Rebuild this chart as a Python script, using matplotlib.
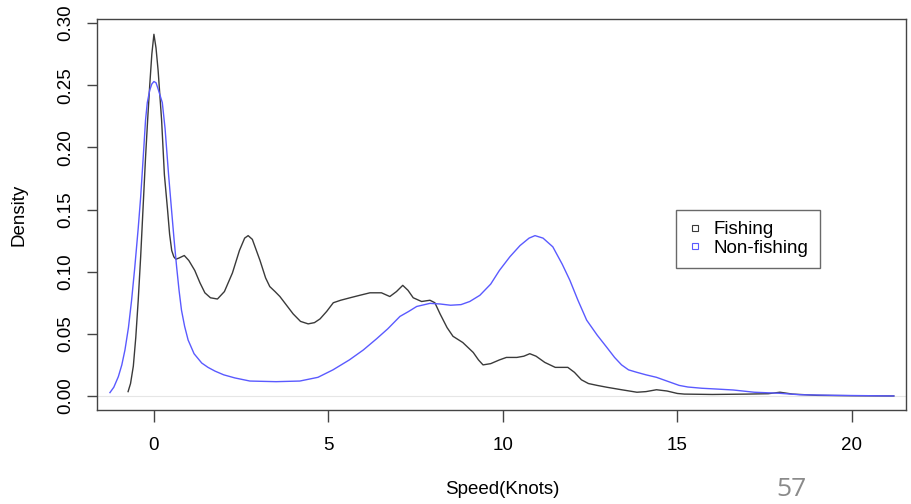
import matplotlib
matplotlib.use("Agg")
import matplotlib.pyplot as plt
from matplotlib.lines import Line2D

plt.rcParams['font.family'] = ['Liberation Sans', 'DejaVu Sans']

# density curves (speed in knots, density)
fish_x = [-0.74, -0.67, -0.59, -0.52, -0.45, -0.38, -0.31, -0.24, -0.18, -0.12,
          -0.06, 0.00, 0.06, 0.12, 0.22, 0.30, 0.39, 0.45, 0.51, 0.57,
          0.63, 0.72, 0.87, 1.00, 1.17, 1.32, 1.46, 1.62, 1.82, 2.02,
          2.25, 2.45, 2.60, 2.70, 2.82, 3.04, 3.20, 3.32, 3.47, 3.61,
          3.80, 3.99, 4.20, 4.42, 4.60, 4.76, 4.95, 5.14, 5.35, 5.62,
          5.90, 6.19, 6.52, 6.76, 6.95, 7.13, 7.28, 7.43, 7.67, 7.91,
          8.05, 8.20, 8.40, 8.57, 8.85, 9.15, 9.30, 9.43, 9.65, 9.90,
          10.10, 10.40, 10.60, 10.77, 10.95, 11.20, 11.50, 11.70, 11.86, 12.05,
          12.25, 12.45, 12.70, 12.98, 13.40, 13.84, 14.10, 14.40, 14.70, 15.00,
          15.20, 16.0, 17.0, 17.6, 17.94, 18.3, 19.0, 20.0, 21.2]
fish_y = [0.0035, 0.010, 0.024, 0.047, 0.077, 0.112, 0.152, 0.192, 0.222, 0.250,
          0.275, 0.291, 0.280, 0.262, 0.222, 0.178, 0.150, 0.130, 0.117, 0.112,
          0.110, 0.111, 0.113, 0.109, 0.101, 0.091, 0.083, 0.079, 0.078, 0.084,
          0.099, 0.117, 0.127, 0.129, 0.126, 0.109, 0.095, 0.088, 0.084, 0.080,
          0.073, 0.066, 0.060, 0.058, 0.059, 0.062, 0.068, 0.075, 0.077, 0.079,
          0.081, 0.083, 0.083, 0.080, 0.084, 0.089, 0.085, 0.079, 0.076, 0.077,
          0.075, 0.066, 0.055, 0.048, 0.043, 0.035, 0.029, 0.025, 0.026, 0.029,
          0.031, 0.031, 0.032, 0.034, 0.032, 0.027, 0.023, 0.023, 0.023, 0.019,
          0.013, 0.010, 0.0085, 0.007, 0.005, 0.003, 0.0035, 0.005, 0.004, 0.002,
          0.0015, 0.0012, 0.0015, 0.0018, 0.003, 0.0015, 0.0005, 0.0002, 0.0]

nonfish_x = [-1.26, -1.15, -1.02, -0.92, -0.83, -0.73, -0.64, -0.55, -0.45, -0.38,
             -0.30, -0.24, -0.19, -0.12, -0.06, 0.00, 0.06, 0.12, 0.24, 0.32,
             0.42, 0.51, 0.58, 0.65, 0.72, 0.79, 0.88, 0.98, 1.15, 1.37,
             1.55, 1.75, 2.00, 2.32, 2.75, 3.50, 4.18, 4.70, 5.13, 5.60,
             6.00, 6.38, 6.70, 7.05, 7.30, 7.53, 7.91, 8.20, 8.50, 8.80,
             9.05, 9.34, 9.65, 9.90, 10.20, 10.49, 10.75, 10.92, 11.15, 11.43,
             11.70, 11.92, 12.15, 12.40, 12.70, 12.98, 13.20, 13.40, 13.60, 13.84,
             14.10, 14.40, 14.80, 15.05, 15.30, 15.70, 16.10, 16.60, 17.20, 17.90,
             18.50, 19.5, 20.5, 21.2]
nonfish_y = [0.0027, 0.007, 0.0155, 0.025, 0.037, 0.055, 0.077, 0.103, 0.135, 0.160,
             0.195, 0.222, 0.236, 0.246, 0.251, 0.253, 0.252, 0.247, 0.236, 0.215,
             0.178, 0.148, 0.125, 0.104, 0.085, 0.069, 0.056, 0.045, 0.034, 0.0265,
             0.023, 0.020, 0.017, 0.0145, 0.012, 0.0115, 0.012, 0.015, 0.021, 0.029,
             0.037, 0.046, 0.054, 0.064, 0.068, 0.072, 0.0745, 0.074, 0.073, 0.0735,
             0.076, 0.081, 0.090, 0.101, 0.112, 0.121, 0.127, 0.129, 0.127, 0.120,
             0.106, 0.093, 0.077, 0.061, 0.049, 0.039, 0.031, 0.025, 0.021, 0.019,
             0.017, 0.015, 0.011, 0.0085, 0.0072, 0.0062, 0.0056, 0.0048, 0.003, 0.0022,
             0.001, 0.0005, 0.0002, 0.0]

x_ticks = [0, 5, 10, 15, 20]
y_ticks = [0.00, 0.05, 0.10, 0.15, 0.20, 0.25, 0.30]
labels = ['Fishing', 'Non-fishing']
colors = ['#3a3a3a', '#5a5aff']

fig = plt.figure(figsize=(9.12, 5.04), dpi=100)
ax = fig.add_axes([0.1064, 0.1865, 0.8870, 0.7758])

# zero line like R's plot.density
ax.axhline(0, color='#e6e6e6', lw=0.8, zorder=0)
ax.plot(fish_x, fish_y, color=colors[0], lw=1.0, solid_joinstyle='round')
ax.plot(nonfish_x, nonfish_y, color=colors[1], lw=1.0, solid_joinstyle='round')

ax.set_xlim(-1.63, 21.55)
ax.set_ylim(-0.0113, 0.3033)
ax.set_xticks(x_ticks)
ax.set_xticklabels([str(t) for t in x_ticks])
ax.set_yticks(y_ticks)
ax.set_yticklabels(['%.2f' % t for t in y_ticks], rotation=90, va='center')

for s in ax.spines.values():
    s.set_color('#444444')
    s.set_linewidth(1.0)
ax.tick_params(axis='x', length=8.5, width=1.0, color='#444444', pad=11, labelsize=13.5)
ax.tick_params(axis='y', length=7.5, width=1.0, color='#444444', pad=9, labelsize=13.5)

fig.text(0.021, 0.574, 'Density', rotation=90, ha='center', va='center', fontsize=13.5)
fig.text(0.551, 0.028, 'Speed(Knots)', ha='center', va='center', fontsize=13.5)
fig.text(0.868, 0.004, '57', ha='center', va='bottom', fontsize=19,
         color='#8a8a8a', family=['Open Sans', 'DejaVu Sans'])

handles = [Line2D([], [], ls='none', marker='s', markersize=5, markerfacecolor='none',
                  markeredgecolor=c, markeredgewidth=0.8) for c in colors]
leg = ax.legend(handles, labels, loc='upper left', bbox_to_anchor=(0.716, 0.5115),
                borderaxespad=0, fontsize=13.5, frameon=True, fancybox=False,
                handlelength=0.8, handletextpad=0.6, labelspacing=0.08,
                borderpad=0.6)
leg.get_frame().set_edgecolor('#444444')
leg.get_frame().set_linewidth(1.0)

fig.savefig('out.png', dpi=100)
